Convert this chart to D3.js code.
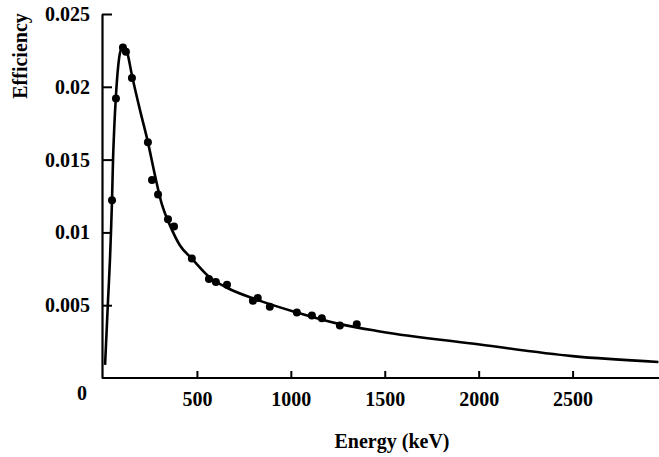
<!DOCTYPE html>
<html>
<head>
<meta charset="utf-8">
<script src="https://cdn.jsdelivr.net/npm/d3@7"></script>
<style>
  body { margin: 0; background: #fff; }
  svg { display: block; }
  text { font-family: "Liberation Serif", "Times New Roman", serif; font-weight: bold; fill: #000; }
</style>
</head>
<body>
<svg id="chart" width="659" height="457"></svg>
<script>
// fitted efficiency curve
const curveEnergy = [11, 16, 27, 37, 43, 48, 53, 60, 69, 80, 92, 112, 128, 154, 197, 239, 277, 314, 356, 410, 473, 569, 660, 814, 1032, 1261, 1474, 2006, 2500, 2957];
const curveEff = [0.0009, 0.0023, 0.0054, 0.0081, 0.0102, 0.0122, 0.0148, 0.0172, 0.0194, 0.0213, 0.0224, 0.0228, 0.0224, 0.0208, 0.0184, 0.0162, 0.0139, 0.0119, 0.0105, 0.0091, 0.0082, 0.0069, 0.0062, 0.0054, 0.0045, 0.0037, 0.0032, 0.0023, 0.0015, 0.0011];

// measured points
const pointEnergy = [48, 69, 106, 122, 154, 239, 261, 293, 346, 378, 473, 564, 601, 660, 798, 824, 888, 1032, 1112, 1165, 1261, 1351];
const pointEff = [0.0122, 0.0192, 0.0227, 0.0224, 0.0206, 0.0162, 0.0136, 0.0126, 0.0109, 0.0104, 0.0082, 0.0068, 0.0066, 0.0064, 0.0053, 0.0055, 0.0049, 0.0045, 0.0043, 0.0041, 0.0036, 0.0037];

const xTicks = [500, 1000, 1500, 2000, 2500];
const yTicks = [0, 0.005, 0.01, 0.015, 0.02, 0.025];
const yTickLabels = ["0", "0.005", "0.01", "0.015", "0.02", "0.025"];

const svg = d3.select("#chart");

const x = d3.scaleLinear().domain([0, 2960]).range([103, 659]);
const y = d3.scaleLinear().domain([0, 0.025]).range([378, 14]);

// x axis
const xAxis = svg.append("g")
    .attr("transform", `translate(0,${y(0)})`)
    .call(d3.axisBottom(x).tickValues(xTicks).tickSizeInner(-7).tickSizeOuter(0).tickPadding(14).tickFormat(d3.format("d")));
xAxis.select(".domain").attr("stroke-width", 2.2).attr("d", `M${x(0) - 1},0H659`);
xAxis.selectAll(".tick line").attr("stroke-width", 2);
xAxis.selectAll("text").style("font-size", "20px").style("font-family", "Liberation Serif").style("font-weight", "bold");

// y axis
const yAxis = svg.append("g")
    .attr("transform", `translate(${x(0) - 1},0)`)
    .call(d3.axisLeft(y).tickValues(yTicks).tickSizeInner(-10).tickSizeOuter(0).tickPadding(12)
        .tickFormat((d, i) => yTickLabels[i]));
yAxis.select(".domain").attr("stroke-width", 2.2);
yAxis.selectAll(".tick line").attr("stroke-width", 2);
yAxis.selectAll("text").style("font-size", "20px").style("font-family", "Liberation Serif").style("font-weight", "bold");
yAxis.selectAll(".tick").filter(d => d === 0).select("line").remove();
yAxis.selectAll(".tick").filter(d => d === 0).select("text").attr("x", -15).attr("dy", "1.05em");

// curve
const line = d3.line()
    .x((d, i) => x(curveEnergy[i]))
    .y(d => y(d))
    .curve(d3.curveMonotoneX);

svg.append("path")
    .datum(curveEff)
    .attr("fill", "none")
    .attr("stroke", "#000")
    .attr("stroke-width", 2.6)
    .attr("d", line);

// points
svg.append("g")
    .selectAll("circle")
    .data(pointEff)
    .join("circle")
    .attr("cx", (d, i) => x(pointEnergy[i]))
    .attr("cy", d => y(d))
    .attr("r", 4)
    .attr("fill", "#000");

// axis titles
svg.append("text")
    .attr("x", 392)
    .attr("y", 448)
    .attr("text-anchor", "middle")
    .style("font-size", "20px")
    .text("Energy (keV)");

svg.append("text")
    .attr("transform", "translate(27,56) rotate(-90)")
    .attr("text-anchor", "middle")
    .style("font-size", "20px")
    .text("Efficiency");
</script>
</body>
</html>
